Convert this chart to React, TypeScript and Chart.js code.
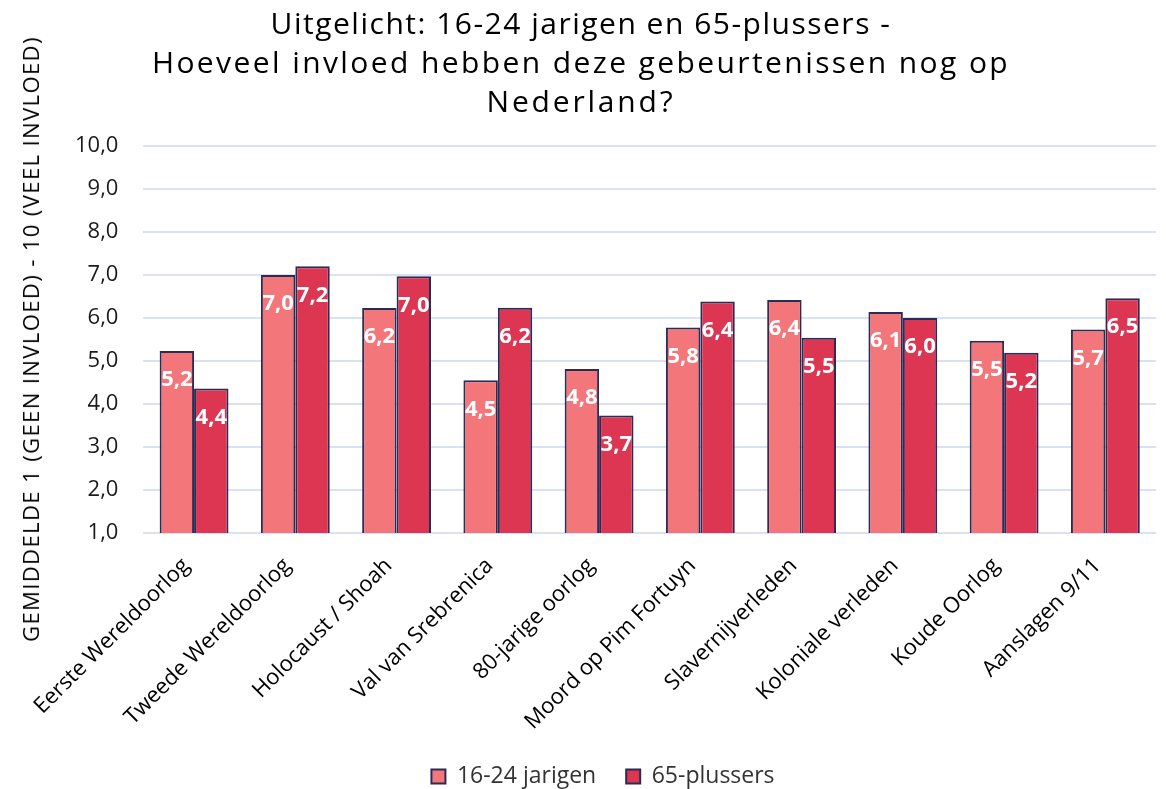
import React, { useEffect, useRef } from "react";
import { Chart, registerables } from "chart.js";

Chart.register(...registerables);

const categories = [
  "Eerste Wereldoorlog",
  "Tweede Wereldoorlog",
  "Holocaust / Shoah",
  "Val van Srebrenica",
  "80-jarige oorlog",
  "Moord op Pim Fortuyn",
  "Slavernijverleden",
  "Koloniale verleden",
  "Koude Oorlog",
  "Aanslagen 9/11",
];

const youngValues = [5.23, 7.0, 6.23, 4.55, 4.81, 5.78, 6.42, 6.14, 5.47, 5.73];
const olderValues = [4.36, 7.2, 6.97, 6.24, 3.73, 6.38, 5.54, 6.0, 5.19, 6.46];

const seriesNames = ["16-24 jarigen", "65-plussers"];

const titleLines = [
  "Uitgelicht: 16-24 jarigen en 65-plussers -",
  "Hoeveel invloed hebben deze gebeurtenissen nog op",
  "Nederland?",
];
const titleSpacing = [1.5, 2.4, 2.8];

const yAxisTitle = "GEMIDDELDE 1 (GEEN INVLOED) - 10 (VEEL INVLOED)";

const FONT = "'Open Sans', 'DejaVu Sans', sans-serif";

const fmt = (v: number) => v.toFixed(1).replace(".", ",");

const dataLabelPlugin = {
  id: "dataLabels",
  afterDatasetsDraw(chart: any) {
    const ctx = chart.ctx;
    ctx.save();
    ctx.fillStyle = "#FFFFFF";
    ctx.font = `bold 22px ${FONT}`;
    ctx.textAlign = "center";
    ctx.textBaseline = "middle";
    chart.data.datasets.forEach((ds: any, di: number) => {
      const meta = chart.getDatasetMeta(di);
      meta.data.forEach((bar: any, i: number) => {
        const v = ds.data[i] as number;
        ctx.fillText(fmt(v), bar.x, bar.y + 29);
      });
    });
    ctx.restore();
  },
};

export default function App() {
  const canvasRef = useRef<HTMLCanvasElement | null>(null);

  useEffect(() => {
    document.body.style.margin = "0";
    const canvas = canvasRef.current;
    if (!canvas) return;
    const chart = new Chart(canvas, {
      type: "bar",
      data: {
        labels: categories,
        datasets: [
          {
            label: seriesNames[0],
            data: youngValues,
            backgroundColor: "#F2767A",
            borderColor: "#2B2B55",
            borderWidth: 2,
            categoryPercentage: 0.68,
            barPercentage: 1.0,
          },
          {
            label: seriesNames[1],
            data: olderValues,
            backgroundColor: "#DC3652",
            borderColor: "#2B2B55",
            borderWidth: 2,
            categoryPercentage: 0.68,
            barPercentage: 1.0,
          },
        ],
      },
      options: {
        animation: false,
        responsive: false,
        maintainAspectRatio: false,
        layout: { padding: { left: 50, right: 10, top: 146, bottom: -9 } },
        plugins: {
          title: { display: false },
          legend: {
            display: true,
            position: "bottom",
            labels: {
              boxWidth: 14,
              boxHeight: 14,
              color: "#333333",
              font: { family: FONT, size: 23 },
              padding: 30,
            },
          },
          tooltip: { enabled: false },
        },
        scales: {
          x: {
            grid: { display: false, drawTicks: false },
            border: { display: false },
            afterFit: (scale: any) => {
              scale.height = scale.height - 20;
            },
            ticks: {
              color: "#000000",
              font: { family: FONT, size: 22 },
              maxRotation: 45,
              minRotation: 45,
              padding: 20,
              labelOffset: -8,
            },
          },
          y: {
            min: 1,
            max: 10,
            grid: { color: "#D9E1F2", lineWidth: 2, drawTicks: false },
            border: { display: false },
            ticks: {
              stepSize: 1,
              color: "#1A1A1A",
              font: { family: FONT, size: 22 },
              padding: 25,
              callback: (v: any) => fmt(Number(v)),
            },
          },
        },
      },
      plugins: [dataLabelPlugin],
    });
    return () => chart.destroy();
  }, []);

  return (
    <div
      style={{
        position: "relative",
        width: 1166,
        height: 789,
        background: "#FFFFFF",
        overflow: "hidden",
      }}
    >
      <canvas
        ref={canvasRef}
        width={1166}
        height={789}
        style={{ position: "absolute", left: 0, top: 0 }}
      />
      <div
        style={{
          position: "absolute",
          left: 0,
          top: 3,
          width: 1162,
          textAlign: "center",
          fontFamily: FONT,
          fontSize: 30,
          lineHeight: "39px",
          color: "#000000",
        }}
      >
        {titleLines.map((t, i) => (
          <div key={i} style={{ letterSpacing: `${titleSpacing[i]}px` }}>
            {t}
          </div>
        ))}
      </div>
      <div
        style={{
          position: "absolute",
          left: 30,
          top: 339,
          transform: "translate(-50%, -50%) rotate(-90deg)",
          whiteSpace: "nowrap",
          fontFamily: FONT,
          fontSize: 22,
          letterSpacing: "1.4px",
          color: "#000000",
        }}
      >
        {yAxisTitle}
      </div>
    </div>
  );
}
